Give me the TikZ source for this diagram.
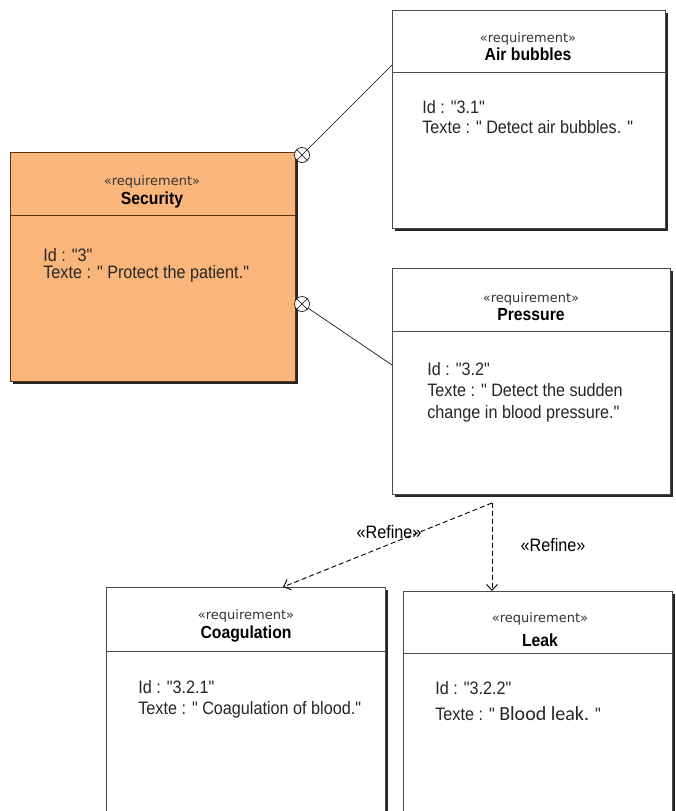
\documentclass[tikz,border=0pt]{standalone}
\usepackage{fontspec}
\setmainfont{Liberation Sans}[FakeStretch=0.9, Ligatures=TeXOff]
\newfontfamily\stereofont{DejaVu Sans}
\newfontfamily\leakfont{Carlito}
\usetikzlibrary{arrows.meta,shadows,positioning}
\definecolor{secfill}{RGB}{250,182,122}
\definecolor{secdraw}{RGB}{85,50,20}
\newcommand{\bodyfont}{\fontsize{18}{20}\selectfont}
\tikzset{
	every node/.style={
		font=\bodyfont
	},
	req/.style={
		shape=rectangle,
		anchor=north west,
		inner sep=0pt,
		draw=black!70,
		line width=1pt,
		fill=white,
		drop shadow={shadow xshift=2.5pt, shadow yshift=-2.5pt, opacity=1, fill=black!85}
	},
	stereo/.style={
		anchor=base,
		inner sep=0pt,
		text=black!80,
		font=\stereofont\fontsize{13}{15}\selectfont
	},
	reqname/.style={
		anchor=base,
		inner sep=0pt,
		font=\fontsize{17.5}{20}\selectfont\bfseries
	},
	reqtext/.style={
		anchor=north west,
		inner sep=0pt,
		align=left,
		text=black!85
	},
	contain/.style={
		shape=circle,
		draw,
		fill=white,
		inner sep=0pt,
		minimum size=15pt
	},
	refine/.style={->, dash pattern=on 5pt off 3pt, line width=0.9pt},
}

\begin{document}
\begin{tikzpicture}[x=1pt, y=-1pt, >={Straight Barb[length=6pt,width=11pt]}, semithick]
	\clip (0,0) rectangle (675,811);
	
	% requirement boxes
	\node[req, fill=secfill, draw=secdraw, minimum width=285pt, minimum height=229pt] (sec) at (10,152) {};
	\node[req, minimum width=273pt, minimum height=218pt] (air) at (392,10) {};
	\node[req, minimum width=278pt, minimum height=226pt] (pres) at (392,268) {};
	\node[req, minimum width=279pt, minimum height=250pt] (coag) at (106,587) {};
	\node[req, minimum width=269pt, minimum height=250pt] (leak) at (403,591) {};
	
	\draw[secdraw, line width=1pt] (sec.west |- 0,215) -- (sec.east |- 0,215);
	\draw[black!70, line width=1pt] (air.west |- 0,72) -- (air.east |- 0,72);
	\draw[black!70, line width=1pt] (pres.west |- 0,331) -- (pres.east |- 0,331);
	\draw[black!70, line width=1pt] (coag.west |- 0,651) -- (coag.east |- 0,651);
	\draw[black!70, line width=1pt] (leak.west |- 0,653) -- (leak.east |- 0,653);
	
	\node[stereo]  (secst)   at (152,185) {«requirement»};
	\node[reqname] (secname) at (152,204) {Security};
	\node[reqtext] (sectext) at (43,248) {Id : "3"\\[-3pt]Texte : " Protect the patient."};
	
	\node[stereo]  (airst)   at (528,42) {«requirement»};
	\node[reqname] (airname) at (528,60) {Air bubbles};
	\node[reqtext] (airtext) at (422,100) {Id : "3.1"\\Texte : " Detect air bubbles. "};
	
	\node[stereo]  (presst)   at (531,302) {«requirement»};
	\node[reqname] (presname) at (531,320) {Pressure};
	\node[reqtext] (prestext) at (427,362) {Id : "3.2"\\[1.5pt]Texte : " Detect the sudden\\[1.5pt]change in blood pressure."};
	
	\node[stereo]  (coagst)   at (246,619) {«requirement»};
	\node[reqname] (coagname) at (246,638) {Coagulation};
	\node[reqtext] (coagtext) at (138,680) {Id : "3.2.1"\\[1pt]Texte : " Coagulation of blood."};
	
	\node[stereo]  (leakst)   at (540,622) {«requirement»};
	\node[reqname] (leakname) at (540,646) {Leak};
	\node[reqtext] (leaktext) at (435,681) {Id : "3.2.2"\\[6pt]Texte : " {\leakfont\fontsize{20}{22}\selectfont Blood leak.} "};
	
	% containment
	\node[contain] (c1) at (302,155) {};
	\node[contain] (c2) at (302,304) {};
	\draw (c1.north west) -- (c1.south east) (c1.north east) -- (c1.south west);
	\draw (c2.north west) -- (c2.south east) (c2.north east) -- (c2.south west);
	\draw (c1) -- (air.west |- 0,65);
	\draw (c2) -- (pres.west |- 0,365);
	
	% refine
	\coordinate (fork) at (492,503);
	\draw[refine] (fork) -- (coag.north -| 283,0);
	\draw[refine] (fork) -- (leak.north -| fork);
	\node (ref1) at (389,532) {«Refine»};
	\node (ref2) at (553,545) {«Refine»};
\end{tikzpicture}
\end{document}
